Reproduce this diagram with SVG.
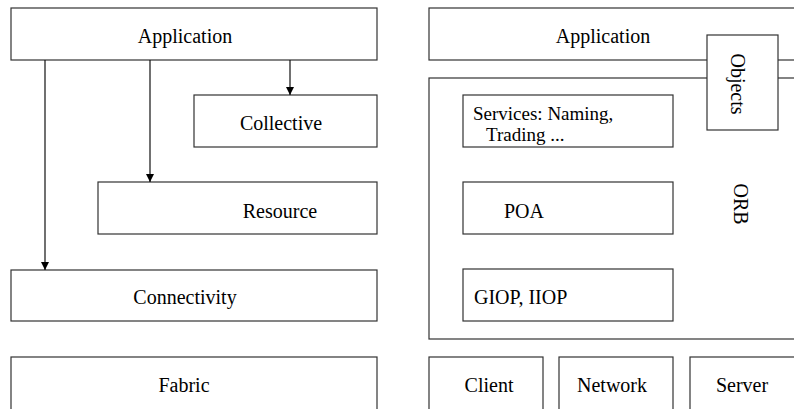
<svg xmlns="http://www.w3.org/2000/svg" width="794" height="409" viewBox="0 0 794 409" font-family="'Liberation Serif', 'DejaVu Serif', 'Times New Roman', serif">
<style>
.box{fill:#fff;stroke:#333;stroke-width:1.2}
.t{font-family:'Liberation Serif','DejaVu Serif','Times New Roman',serif;font-size:20px;fill:#000}
.s{font-size:19px}
.m{text-anchor:middle}
.conn{stroke:#111;stroke-width:1.2;fill:none}
</style>
<defs>
<marker id="ah" viewBox="0 0 8 14" refX="8" refY="7" markerWidth="8" markerHeight="14" markerUnits="userSpaceOnUse" orient="auto">
<path d="M0,3 L8,7 L0,11 Z" fill="#000"/>
</marker>
</defs>
<rect width="794" height="409" fill="#fff"/>
<g id="app-left"><rect class="box" x="11" y="8" width="366" height="52"/><text class="t m" x="185" y="43">Application</text></g>
<g id="collective"><rect class="box" x="194" y="95" width="183" height="52"/><text class="t m" x="281" y="130">Collective</text></g>
<g id="resource"><rect class="box" x="98" y="182" width="279" height="52"/><text class="t m" x="280" y="218">Resource</text></g>
<g id="connectivity"><rect class="box" x="11" y="270" width="366" height="51"/><text class="t m" x="185" y="304">Connectivity</text></g>
<g id="fabric"><rect class="box" x="11" y="357" width="366" height="60"/><text class="t m" x="184" y="392">Fabric</text></g>
<g id="connectors">
<line class="conn" x1="290" y1="60" x2="290" y2="95" marker-end="url(#ah)"/>
<line class="conn" x1="150" y1="60" x2="150" y2="182" marker-end="url(#ah)"/>
<line class="conn" x1="45" y1="60" x2="45" y2="270" marker-end="url(#ah)"/>
</g>
<g id="app-right"><rect class="box" x="429" y="8" width="380" height="52"/><text class="t m" x="603" y="43">Application</text></g>
<g id="orb"><rect class="box" x="429" y="78" width="380" height="261"/><text class="t m" transform="translate(734,204) rotate(90)">ORB</text></g>
<g id="objects"><rect class="box" x="707" y="35" width="71" height="95"/><text class="t m" transform="translate(731,84) rotate(90)">Objects</text></g>
<g id="services"><rect class="box" x="463" y="95" width="210" height="52"/><text class="t s" x="473" y="120">Services: Naming,</text><text class="t s" x="486" y="141">Trading ...</text></g>
<g id="poa"><rect class="box" x="463" y="182" width="210" height="52"/><text class="t" x="504" y="218">POA</text></g>
<g id="giop"><rect class="box" x="463" y="269" width="210" height="52"/><text class="t" x="474" y="304">GIOP, IIOP</text></g>
<g id="client"><rect class="box" x="429" y="357" width="114" height="60"/><text class="t m" x="489" y="392">Client</text></g>
<g id="network"><rect class="box" x="559" y="357" width="114" height="60"/><text class="t m" x="612" y="392">Network</text></g>
<g id="server"><rect class="box" x="690" y="357" width="120" height="60"/><text class="t m" x="742" y="392">Server</text></g>
</svg>
